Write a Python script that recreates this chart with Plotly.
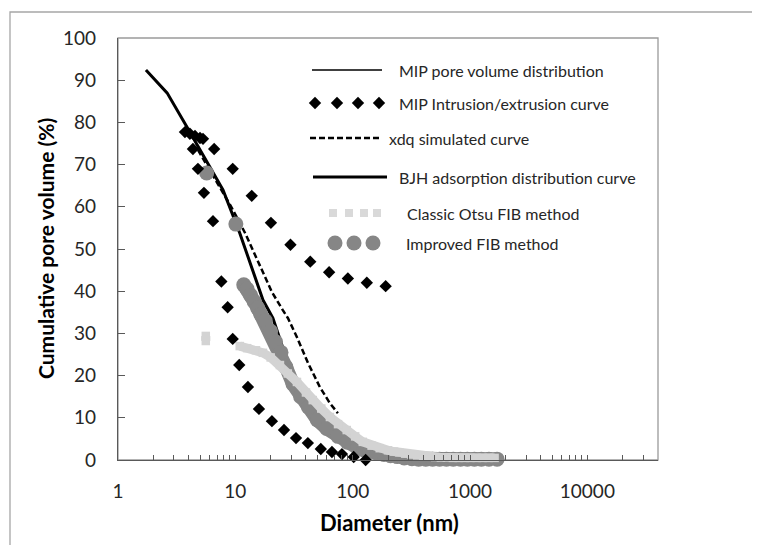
import math
import plotly.graph_objects as go

# ---------------- data ----------------
bjh_d = [1.73, 2.62, 3.87, 5.0, 6.07, 7.85, 10.9, 14.1, 17.2, 20.9, 27.5]
bjh_v = [92.4, 87.0, 78.9, 73.5, 69.4, 64.0, 53.8, 45.0, 37.9, 33.6, 23.7]

mip_line_d = [3.9, 5.0, 6.07, 7.85, 10.9, 14.1, 17.2, 20.9, 27.5, 35.5, 43.0, 49.5, 58.0]
mip_line_v = [78.6, 73.5, 69.4, 64.0, 53.8, 45.0, 37.9, 33.6, 23.7, 18.2, 14.0, 11.1, 7.8]

xdq_d = [4.8, 6.97, 9.35, 12.1, 15.6, 20.5, 25.4, 28.1, 33.5, 41.6, 52.5, 63.8, 74.8]
xdq_v = [73.5, 65.9, 59.7, 53.8, 46.9, 39.8, 35.5, 33.6, 29.1, 23.0, 17.3, 13.5, 11.1]

mip_pts_d = [3.72, 4.1, 4.53, 5.0, 5.3,
             4.35, 4.8, 5.4, 6.45, 7.6, 8.6, 9.5, 10.8, 12.8, 15.9, 20.5, 26.0,
             32.9, 41.5, 53.5, 66.6, 81.0, 102.0, 129.0,
             6.6, 9.5, 13.8, 20.1, 29.5, 43.5, 63.0, 91.0, 132.0, 191.0]
mip_pts_v = [77.7, 77.3, 76.8, 76.3, 76.1,
             73.7, 69.0, 63.3, 56.6, 42.3, 36.2, 28.7, 22.5, 17.3, 12.1, 9.2, 7.1,
             5.2, 4.0, 2.6, 1.9, 1.4, 0.7, 0.0,
             73.7, 69.0, 62.6, 56.2, 51.0, 47.0, 44.5, 43.0, 42.0, 41.2]

otsu_d = [5.6, 5.6, None, 10.9, 12.6, 15.0, 17.2, 20.0, 24.0, 28.0, 33.5, 40.0, 45.7,
          54.0, 64.0, 75.0, 89.0, 105.0, 122.0, 145.0, 170.0, 200.0, 225.0, 250.0,
          280.0, 315.0, 355.0, 400.0, 450.0, 505.0, 565.0, 635.0, 715.0, 800.0,
          900.0, 1010.0, 1140.0, 1280.0, 1440.0, 1620.0]
otsu_v = [29.4, 28.2, None, 27.0, 26.5, 26.0, 25.4, 24.3, 22.5, 20.5, 18.5, 16.0, 14.2,
          12.2, 10.2, 8.5, 7.1, 5.6, 4.3, 3.4, 2.8, 2.3, 2.0, 1.8,
          1.5, 1.3, 1.1, 0.9, 0.8, 0.7, 0.6, 0.6, 0.5, 0.5,
          0.5, 0.5, 0.5, 0.5, 0.5, 0.5]

improved_d = [5.7, None, 10.1, None, 11.8, 12.6, 13.5, 14.5, 15.5, 16.5, 18.0, 20.0, 22.0,
              24.5, 27.0, 31.0, 36.0, 42.0, 50.0, 60.0, 75.0, 90.0, 110.0, 125.0, 140.0,
              160.0, 185.0, 210.0, 240.0, 275.0, 320.0, 365.0, 420.0, 480.0, 550.0,
              630.0, 720.0, 830.0, 950.0, 1090.0, 1250.0, 1450.0, 1700.0]
improved_v = [68.0, None, 55.9, None, 41.5, 40.5, 39.0, 37.5, 36.0, 34.5, 33.0, 30.5, 28.0,
              25.5, 22.0, 18.0, 15.0, 12.5, 9.5, 7.5, 5.6, 4.2, 2.9, 2.4, 2.0,
              1.7, 1.3, 1.0, 0.8, 0.5, 0.3, 0.2, 0.2, 0.2, 0.2,
              0.2, 0.2, 0.2, 0.2, 0.2, 0.2, 0.2, 0.2]

x_tick_labels = ["1", "10", "100", "1000", "10000"]
legend_labels = ["MIP pore volume distribution", "MIP Intrusion/extrusion curve",
                 "xdq simulated curve", "BJH adsorption distribution curve",
                 "Classic Otsu FIB method", "Improved FIB method"]

# ---------------- layout constants ----------------
W, H = 760, 545
OFF = 8                           # page body margin
L, R, T, B = 118, 658, 38, 460    # plot area in screenshot pixels
FONT = "Lato, 'Open Sans', sans-serif"
TXT = "#262626"
DARK = "#868686"
LIGHT = "#d3d3d3"

fig = go.Figure()

# lines (beneath markers)
fig.add_trace(go.Scatter(x=mip_line_d, y=mip_line_v, mode="lines",
                         line=dict(color="black", width=1.5), cliponaxis=False))
fig.add_trace(go.Scatter(x=xdq_d, y=xdq_v, mode="lines",
                         line=dict(color="black", width=2.5, dash="6px,3px"), cliponaxis=False))
fig.add_trace(go.Scatter(x=bjh_d, y=bjh_v, mode="lines",
                         line=dict(color="black", width=3), cliponaxis=False))
# improved FIB (dark gray circles)
fig.add_trace(go.Scatter(x=improved_d, y=improved_v, mode="lines+markers",
                         line=dict(color=DARK, width=14),
                         marker=dict(symbol="circle", size=15, color=DARK),
                         connectgaps=False, cliponaxis=False))
# classic Otsu (light gray squares)
fig.add_trace(go.Scatter(x=otsu_d, y=otsu_v, mode="lines+markers",
                         line=dict(color=LIGHT, width=9),
                         marker=dict(symbol="square", size=8.5, color=LIGHT),
                         connectgaps=False, cliponaxis=False))
# MIP intrusion / extrusion diamonds
fig.add_trace(go.Scatter(x=mip_pts_d, y=mip_pts_v, mode="markers",
                         marker=dict(symbol="diamond", size=9.5, color="black"),
                         cliponaxis=False))

# ---------------- legend drawn in screenshot-pixel space (overlay axes) ----------------
rows = [70, 103, 138, 177, 213, 243]
text_x = [397, 397, 387, 397, 405, 404]
fig.add_trace(go.Scatter(x=[312, 382], y=[rows[0]] * 2, mode="lines", xaxis="x2", yaxis="y2",
                         line=dict(color="black", width=1.5), cliponaxis=False))
fig.add_trace(go.Scatter(x=[315, 337, 358, 379], y=[rows[1]] * 4, mode="markers", xaxis="x2",
                         yaxis="y2", marker=dict(symbol="diamond", size=9.5, color="black"),
                         cliponaxis=False))
fig.add_trace(go.Scatter(x=[310, 382], y=[rows[2]] * 2, mode="lines", xaxis="x2", yaxis="y2",
                         line=dict(color="black", width=2.5, dash="6px,3px"), cliponaxis=False))
fig.add_trace(go.Scatter(x=[313, 387], y=[rows[3]] * 2, mode="lines", xaxis="x2", yaxis="y2",
                         line=dict(color="black", width=3), cliponaxis=False))
fig.add_trace(go.Scatter(x=[333, 349, 364, 377], y=[rows[4]] * 4, mode="markers", xaxis="x2",
                         yaxis="y2", marker=dict(symbol="square", size=8, color="#d9d9d9"),
                         cliponaxis=False))
fig.add_trace(go.Scatter(x=[335, 354, 373], y=[rows[5]] * 3, mode="markers", xaxis="x2",
                         yaxis="y2", marker=dict(symbol="circle", size=15, color=DARK),
                         cliponaxis=False))

annotations = []
for lbl, ry, tx in zip(legend_labels, rows, text_x):
    annotations.append(dict(x=tx, y=ry, xref="x2", yref="y2", text=lbl, showarrow=False,
                            xanchor="left", yanchor="middle",
                            font=dict(family=FONT, size=16, color=TXT)))

px = lambda x: (x - L) / (R - L)
py = lambda y: (B - y) / (B - T)
annotations.append(dict(x=px(45), y=0.5, xref="paper", yref="paper",
                        text="<b>Cumulative pore volume (%)</b>", textangle=-90,
                        showarrow=False, xanchor="center", yanchor="middle",
                        font=dict(family=FONT, size=21, color="black")))
annotations.append(dict(x=px(389), y=py(522), xref="paper", yref="paper",
                        text="<b>Diameter (nm)</b>", showarrow=False,
                        xanchor="center", yanchor="middle",
                        font=dict(family=FONT, size=22, color="black")))

# log tick positions (decades labelled, 2..9 unlabelled)
xmax = 40000
tickvals, ticktext = [], []
for e in range(0, 5):
    for m in range(1, 10):
        v = m * 10 ** e
        if v > xmax:
            break
        tickvals.append(v)
        ticktext.append(x_tick_labels[e] if m == 1 else "")

shapes = [
    # outer chart frame
    dict(type="rect", xref="paper", yref="paper", x0=px(10), x1=px(790), y0=py(580), y1=py(12),
         line=dict(color="#a6a6a6", width=1.3), layer="below"),
    # plot area border
    dict(type="rect", xref="paper", yref="paper", x0=0, x1=1, y0=0, y1=1,
         line=dict(color="#9a9a9a", width=1.3), layer="below"),
]

fig.update_layout(
    width=W, height=H,
    margin=dict(l=L - OFF, r=W - (R - OFF), t=T - OFF, b=H - (B - OFF), pad=0),
    paper_bgcolor="white", plot_bgcolor="white",
    showlegend=False,
    xaxis=dict(type="log", range=[0, math.log10(xmax)], tickmode="array",
               tickvals=tickvals, ticktext=ticktext, ticks="inside", ticklen=5,
               tickcolor="#595959", showgrid=False, zeroline=False, showline=True,
               linecolor="#595959", linewidth=1.3, ticklabelstandoff=14,
               tickfont=dict(family=FONT, size=19, color=TXT)),
    yaxis=dict(range=[0, 100], dtick=10, ticks="inside", ticklen=7, tickcolor="#595959",
               showgrid=False, zeroline=False, showline=True, linecolor="#595959",
               linewidth=1.3, ticklabelstandoff=17,
               tickfont=dict(family=FONT, size=19, color=TXT)),
    xaxis2=dict(overlaying="x", range=[L, R], visible=False),
    yaxis2=dict(overlaying="y", range=[B, T], visible=False),
    annotations=annotations,
    shapes=shapes,
)

fig.write_html("out.html")
